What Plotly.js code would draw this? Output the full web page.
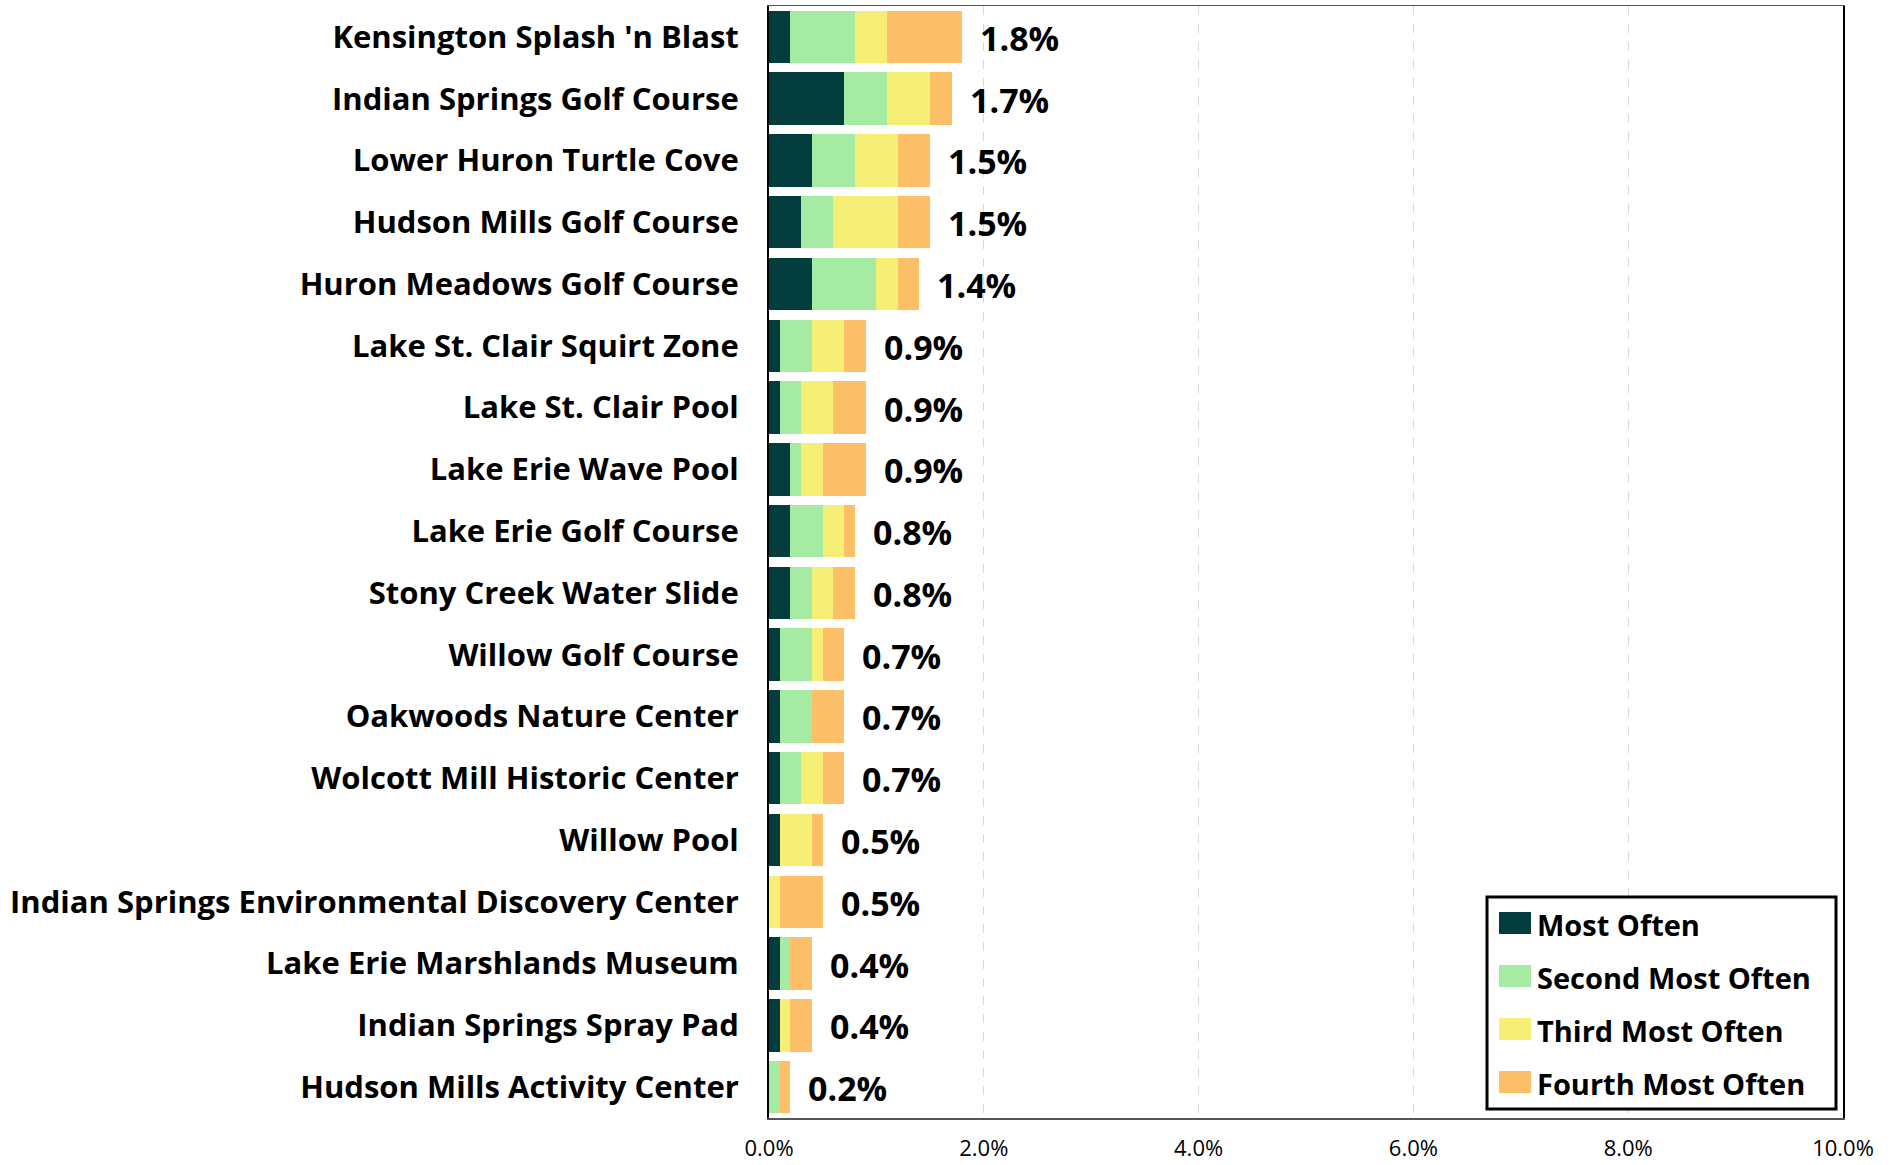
<!DOCTYPE html>
<html>
<head>
<meta charset="utf-8">
<script src="https://cdn.plot.ly/plotly-3.0.1.min.js"></script>
<style>html,body{margin:0;padding:0;background:#fff;}#chart{width:1895px;height:1165px;}</style>
</head>
<body>
<div id="chart"></div>
<script>
const categories = [
  "Kensington Splash 'n Blast",
  "Indian Springs Golf Course",
  "Lower Huron Turtle Cove",
  "Hudson Mills Golf Course",
  "Huron Meadows Golf Course",
  "Lake St. Clair Squirt Zone",
  "Lake St. Clair Pool",
  "Lake Erie Wave Pool",
  "Lake Erie Golf Course",
  "Stony Creek Water Slide",
  "Willow Golf Course",
  "Oakwoods Nature Center",
  "Wolcott Mill Historic Center",
  "Willow Pool",
  "Indian Springs Environmental Discovery Center",
  "Lake Erie Marshlands Museum",
  "Indian Springs Spray Pad",
  "Hudson Mills Activity Center"
];
const mostOften   = [0.2,0.7,0.4,0.3,0.4,0.1,0.1,0.2,0.2,0.2,0.1,0.1,0.1,0.1,0.0,0.1,0.1,0.0];
const secondOften = [0.6,0.4,0.4,0.3,0.6,0.3,0.2,0.1,0.3,0.2,0.3,0.3,0.2,0.0,0.0,0.1,0.0,0.1];
const thirdOften  = [0.3,0.4,0.4,0.6,0.2,0.3,0.3,0.2,0.2,0.2,0.1,0.0,0.2,0.3,0.1,0.0,0.1,0.0];
const fourthOften = [0.7,0.2,0.3,0.3,0.2,0.2,0.3,0.4,0.1,0.2,0.2,0.3,0.2,0.1,0.4,0.2,0.2,0.1];
const seriesNames = ['Most Often','Second Most Often','Third Most Often','Fourth Most Often'];
const seriesColors = ['#023C3C','#A6EBA3','#F5F075','#FDBF67'];
const totals = categories.map((c,i)=> Math.round((mostOften[i]+secondOften[i]+thirdOften[i]+fourthOften[i])*10)/10);
const totalLabels = totals.map(v => v.toFixed(1) + '%');
const xTicks = [0,2,4,6,8,10];
const xTickLabels = ['0.0%','2.0%','4.0%','6.0%','8.0%','10.0%'];

const FONT = '"Open Sans", Lato, sans-serif';
const W = 1895, H = 1165;
const M = {l:769, r:52, t:6, b:47};
const PW = W - M.l - M.r, PH = H - M.t - M.b;
const px = x => (x - M.l) / PW;
const py = y => (H - M.b - y) / PH;

const seriesVals = [mostOften, secondOften, thirdOften, fourthOften];
const traces = seriesVals.map((vals,k)=>({
  type:'bar', orientation:'h', name:seriesNames[k], x:vals, y:categories,
  marker:{color:seriesColors[k], line:{width:0}}, showlegend:false
}));

const shapes = [];
const annotations = [];
// total labels at the end of each stacked bar
categories.forEach((c,i)=>{
  annotations.push({xref:'x', yref:'y', x:totals[i], y:c, xanchor:'left', yanchor:'middle',
    xshift:16, yshift:-1, text:totalLabels[i], showarrow:false,
    font:{family:FONT, size:34, color:'#000', weight:700}});
});
// manual legend (box, swatches, labels)
shapes.push({type:'rect', xref:'paper', yref:'paper', x0:px(1487), x1:px(1836), y0:py(1109), y1:py(897),
  line:{color:'#000', width:3}, fillcolor:'#fff', layer:'above'});
seriesNames.forEach((nm,k)=>{
  const cy = 923 + k*53;
  shapes.push({type:'rect', xref:'paper', yref:'paper', x0:px(1499), x1:px(1531), y0:py(cy+11), y1:py(cy-11),
    line:{width:0}, fillcolor:seriesColors[k], layer:'above'});
  annotations.push({xref:'paper', yref:'paper', x:px(1535), y:py(cy+1), xanchor:'left', yanchor:'middle',
    text:nm, showarrow:false, font:{family:FONT, size:29, color:'#000', weight:700}});
});

const layout = {
  width:W, height:H,
  margin:{l:M.l, r:M.r, t:M.t, b:M.b, pad:0},
  paper_bgcolor:'#fff', plot_bgcolor:'#fff',
  barmode:'stack', bargap:0.15,
  font:{family:FONT, color:'#000'},
  xaxis:{range:[0,10], tickvals:xTicks, ticktext:xTickLabels, showgrid:true,
    gridcolor:'#d9d9d9', griddash:'dash', gridwidth:1, zeroline:false,
    showline:true, linecolor:'#555', linewidth:1.5, mirror:true,
    ticks:'', tickfont:{family:FONT, size:22, color:'#000'}, ticklabelstandoff:10, fixedrange:true},
  yaxis:{range:[17.5,-0.5], showline:true, linecolor:'#000', linewidth:2, mirror:true,
    ticks:'', showgrid:false, zeroline:false, ticklabelstandoff:22,
    tickfont:{family:FONT, size:31, color:'#000', weight:700}, fixedrange:true},
  showlegend:false,
  shapes:shapes, annotations:annotations
};
Plotly.newPlot('chart', traces, layout, {displayModeBar:false, staticPlot:true});
</script>
</body>
</html>
